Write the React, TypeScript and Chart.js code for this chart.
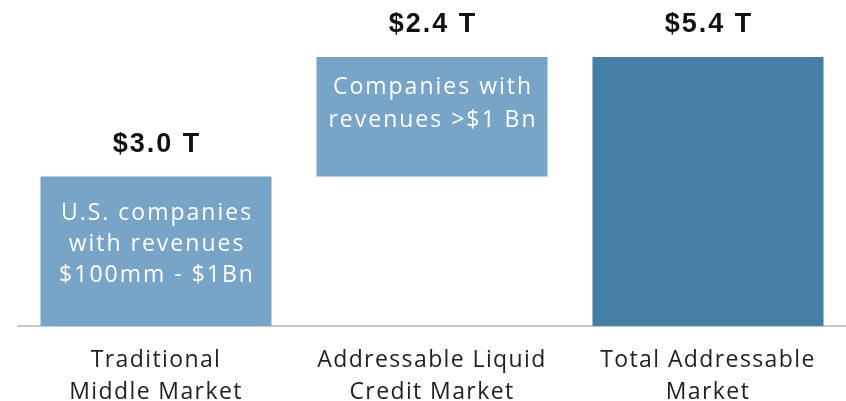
import React, { useEffect, useRef } from "react";
import { Chart, registerables } from "chart.js";

Chart.register(...registerables);

const categories: string[][] = [
  ["Traditional", "Middle Market"],
  ["Addressable Liquid", "Credit Market"],
  ["Total Addressable", "Market"],
];
const barStarts: number[] = [0, 3.0, 0];
const barEnds: number[] = [3.0, 5.4, 5.4];
const valueLabels: string[] = ["$3.0 T", "$2.4 T", "$5.4 T"];
const innerLabels: string[][] = [
  ["U.S. companies", "with revenues", "$100mm - $1Bn"],
  ["Companies with", "revenues >$1 Bn"],
  [],
];
const barColors: string[] = ["#78A4C8", "#78A4C8", "#467FA5"];
const innerOffsets: number[] = [37, 31, 0];
const innerSpacing: number[] = [31, 33, 0];

const spacingPlugin = {
  id: "tickSpacing",
  beforeDraw(chart: any) {
    (chart.ctx as any).letterSpacing = "1.4px";
  },
  afterDraw(chart: any) {
    (chart.ctx as any).letterSpacing = "0px";
  },
};

const labelPlugin = {
  id: "waterfallLabels",
  afterDatasetsDraw(chart: any) {
    const ctx = chart.ctx;
    const meta = chart.getDatasetMeta(0);
    meta.data.forEach((bar: any, i: number) => {
      const top = Math.min(bar.y, bar.base);
      ctx.save();
      ctx.textAlign = "center";
      ctx.textBaseline = "middle";
      ctx.fillStyle = "#111111";
      ctx.font = "bold 27px 'Liberation Sans', Arial, sans-serif";
      (ctx as any).letterSpacing = "2px";
      ctx.fillText(valueLabels[i], bar.x + 1, top - 32);
      (ctx as any).letterSpacing = "2px";
      ctx.fillStyle = "#ffffff";
      ctx.font = "23px 'Open Sans', sans-serif";
      innerLabels[i].forEach((line, j) => {
        ctx.fillText(line, bar.x + 1, top + innerOffsets[i] + j * innerSpacing[i]);
      });
      ctx.restore();
    });
  },
};

export default function App() {
  const ref = useRef<HTMLCanvasElement | null>(null);
  useEffect(() => {
    if (!ref.current) return;
    const chart = new Chart(ref.current, {
      type: "bar",
      data: {
        labels: categories,
        datasets: [
          {
            data: barStarts.map((s, i) => [s, barEnds[i]]) as any,
            backgroundColor: barColors,
            borderWidth: 0,
            barPercentage: 0.837,
            categoryPercentage: 1,
          },
        ],
      },
      options: {
        animation: false,
        responsive: true,
        maintainAspectRatio: false,
        layout: { padding: { left: 18, top: 27, right: 0, bottom: 0 } },
        plugins: {
          legend: { display: false },
          tooltip: { enabled: false },
        },
        scales: {
          x: {
            grid: { display: false, drawTicks: false },
            border: { display: true, color: "#c8c8c8", width: 2 },
            ticks: {
              color: "#222222",
              padding: 18,
              maxRotation: 0,
              autoSkip: false,
              font: { family: "'Open Sans', sans-serif", size: 23, lineHeight: 1.39 },
            },
            afterFit: (scale: any) => {
              scale.height = 75;
            },
          },
          y: {
            display: false,
            min: 0,
            max: 6,
          },
        },
      },
      plugins: [spacingPlugin, labelPlugin],
    });
    return () => chart.destroy();
  }, []);
  return (
    <div style={{ position: "fixed", left: 0, top: 0, width: 846, height: 401, background: "#fff" }}>
      <canvas ref={ref} />
    </div>
  );
}
